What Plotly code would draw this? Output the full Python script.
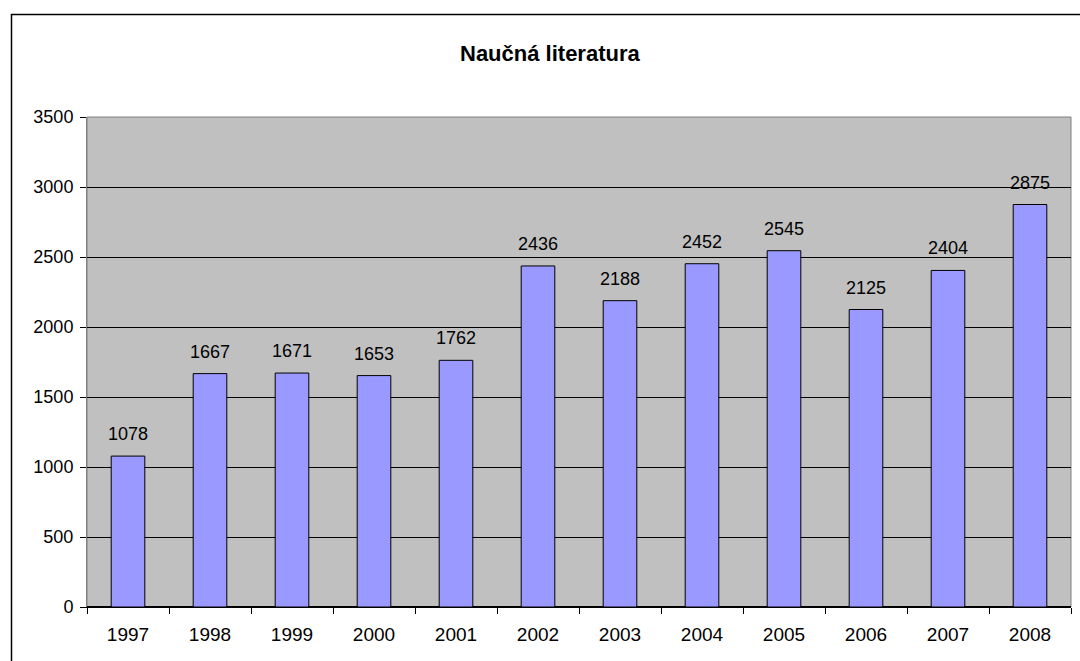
import plotly.graph_objects as go

years = ["1997", "1998", "1999", "2000", "2001", "2002", "2003", "2004", "2005", "2006", "2007", "2008"]
values = [1078, 1667, 1671, 1653, 1762, 2436, 2188, 2452, 2545, 2125, 2404, 2875]
title = "Naučná literatura"

W, H = 1080, 661
L, R, T, B = 87, 9, 117, 54
pw, ph = W - L - R, H - T - B

def px_x(x):
    return (x - L) / pw

def px_y(y):
    return (H - B - y) / ph

fig = go.Figure()
fig.add_trace(go.Bar(
    x=years, y=values,
    marker=dict(color="#9999FF", line=dict(color="#000000", width=1)),
    width=0.41,
    hoverinfo="x+y",
))

for i, v in enumerate(values):
    fig.add_annotation(x=i, y=v, text=str(v), showarrow=False, yanchor="bottom",
                       yshift=10, font=dict(family="Liberation Sans, Arial", size=18, color="#000"))

fig.add_annotation(xref="paper", yref="paper", x=px_x(550), y=px_y(53), text="<b>" + title + "</b>",
                   showarrow=False, xanchor="center", yanchor="middle",
                   font=dict(family="Liberation Sans, Arial", size=22, color="#000"))

# outer chart border
fig.add_shape(type="rect", xref="paper", yref="paper", x0=px_x(11.5), x1=px_x(1100), y0=px_y(14.5), y1=px_y(700),
              line=dict(color="#000", width=1.5), fillcolor="rgba(0,0,0,0)", layer="above")
# plot area border
fig.add_shape(type="rect", xref="paper", yref="paper", x0=0, x1=1, y0=0, y1=1,
              line=dict(color="#808080", width=1), fillcolor="rgba(0,0,0,0)", layer="below")

fig.update_layout(
    width=W, height=H,
    margin=dict(l=L, r=R, t=T, b=B, pad=0),
    paper_bgcolor="white", plot_bgcolor="#C0C0C0",
    showlegend=False,
    font=dict(family="Liberation Sans, Arial", size=18, color="#000"),
    xaxis=dict(type="category", tickson="boundaries", ticks="outside", ticklen=6, tickcolor="#000",
               showline=True, linecolor="#000", linewidth=1, showgrid=False,
               tickfont=dict(size=19), range=[-0.5, 11.5], ticklabelstandoff=10),
    yaxis=dict(range=[0, 3500], dtick=500, ticks="outside", ticklen=6, tickcolor="#000",
               showline=True, linecolor="#808080", gridcolor="#000", gridwidth=1,
               zeroline=True, zerolinecolor="#000", tickfont=dict(size=18), ticklabelstandoff=3),
)

fig.write_html("out.html", config={"displayModeBar": False},
               post_script="document.body.style.margin='0';")
